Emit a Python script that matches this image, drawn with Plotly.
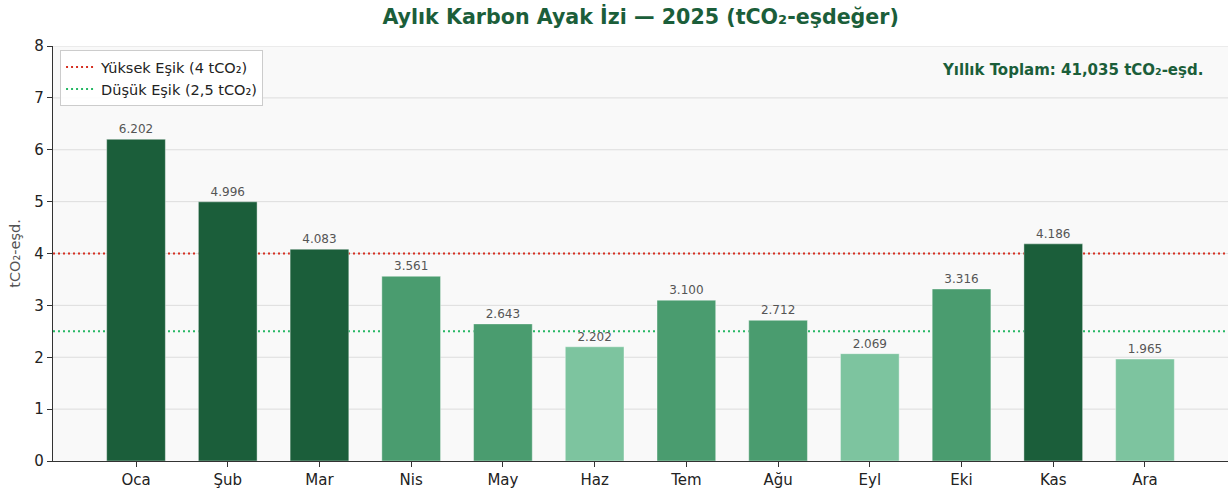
import plotly.graph_objects as go

months = ["Oca", "Şub", "Mar", "Nis", "May", "Haz", "Tem", "Ağu", "Eyl", "Eki", "Kas", "Ara"]
values = [6.202, 4.996, 4.083, 3.561, 2.643, 2.202, 3.100, 2.712, 2.069, 3.316, 4.186, 1.965]
y_ticks = [0, 1, 2, 3, 4, 5, 6, 7, 8]
high_threshold = 4.0
low_threshold = 2.5
total_text = "Yıllık Toplam: 41,035 tCO₂-eşd."

DARK = "#1b5e3a"
MID = "#4a9c6f"
LIGHT = "#7dc49f"
RED = "#d62f20"
GREEN = "#27b865"


def color_for(v):
    if v >= high_threshold:
        return DARK
    if v >= low_threshold:
        return MID
    return LIGHT


colors = [color_for(v) for v in values]
labels = [f"{v:.3f}" for v in values]
xs = list(range(len(months)))

fig = go.Figure()
fig.add_trace(go.Bar(
    x=xs, y=values, width=0.64,
    marker=dict(color=colors, line=dict(color="rgba(255,255,255,0.5)", width=0.8)),
    text=labels, textposition="outside", cliponaxis=False,
    textfont=dict(family="DejaVu Sans", size=12, color="#555555"),
    showlegend=False, hoverinfo="skip",
))
fig.add_trace(go.Scatter(
    x=[None], y=[None], mode="lines", name="Yüksek Eşik (4 tCO₂)",
    line=dict(color=RED, width=2, dash="2px,3px"),
))
fig.add_trace(go.Scatter(
    x=[None], y=[None], mode="lines", name="Düşük Eşik (2,5 tCO₂)",
    line=dict(color=GREEN, width=2, dash="2px,3px"),
))

# gridlines drawn as shapes below everything so the threshold lines sit on top of them
for t in y_ticks[1:]:
    fig.add_shape(type="line", xref="paper", x0=0, x1=1, yref="y", y0=t, y1=t,
                  line=dict(color="#dddddd", width=1), layer="below")

fig.add_shape(type="line", xref="paper", x0=0, x1=1, yref="y", y0=high_threshold, y1=high_threshold,
              line=dict(color=RED, width=2, dash="2px,3px"), layer="between")
fig.add_shape(type="line", xref="paper", x0=0, x1=1, yref="y", y0=low_threshold, y1=low_threshold,
              line=dict(color=GREEN, width=2, dash="2px,3px"), layer="between")

fig.add_annotation(
    xref="paper", yref="paper", x=0.9804, y=0.943, xanchor="right", yanchor="middle",
    text=f"<b>{total_text}</b>", showarrow=False,
    font=dict(family="DejaVu Sans", size=15, color=DARK),
)

fig.update_layout(
    width=1228, height=493,
    margin=dict(l=53, r=0, t=46, b=32),
    paper_bgcolor="white", plot_bgcolor="#f9f9f9",
    font=dict(family="DejaVu Sans", size=15, color="#222222"),
    title=dict(text="<b>Aylık Karbon Ayak İzi — 2025 (tCO₂-eşdeğer)</b>",
               x=0.5217, xanchor="center", y=0.965, yanchor="middle",
               font=dict(family="DejaVu Sans", size=20.6, color=DARK)),
    legend=dict(x=0.006, y=0.99, xanchor="left", yanchor="top",
                bgcolor="rgba(255,255,255,0.9)", bordercolor="#cccccc", borderwidth=1,
                font=dict(family="DejaVu Sans", size=14.5, color="#222222"),
                itemwidth=30),
    bargap=0.36,
    showlegend=True,
)
fig.update_xaxes(
    range=[-0.905, 11.905], tickmode="array", tickvals=xs, ticktext=months,
    showgrid=False, showline=True, linecolor="#333333", linewidth=1.2,
    ticks="outside", ticklen=5, tickcolor="#333333", zeroline=False,
    tickfont=dict(size=15, color="#222222"), automargin=False,
)
fig.update_yaxes(
    range=[0, 8], tickmode="array", tickvals=y_ticks, showgrid=False,
    showline=True, linecolor="#333333", linewidth=1.2,
    ticks="outside", ticklen=5, tickcolor="#333333", zeroline=False,
    tickfont=dict(size=15, color="#222222"), automargin=False,
    title=dict(text="tCO₂-eşd.", font=dict(size=14.5, color="#555555"), standoff=10),
)

fig.write_html(
    "out.html",
    config={"displayModeBar": False},
    post_script="document.body.style.margin='0';document.body.style.padding='0';",
)
